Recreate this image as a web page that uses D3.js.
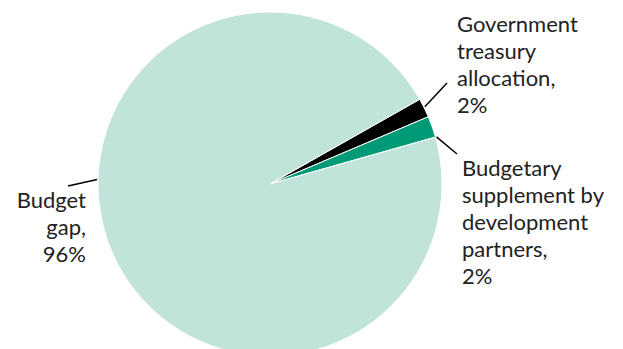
<!DOCTYPE html>
<html>
<head>
<meta charset="utf-8">
<script src="https://cdn.jsdelivr.net/npm/d3@7"></script>
<style>
  html, body { margin: 0; padding: 0; background: #fff; }
  text { font-family: "Lato", "Open Sans", sans-serif; fill: #222; }
</style>
</head>
<body>
<div id="chart"></div>
<script>
const width = 623;
const height = 349;

// slices, in drawing order (clockwise from the start angle)
const categories = ["Government treasury allocation", "Budgetary supplement by development partners", "Budget gap"];
const shares = [1.8, 2.0, 96.2];
const colors = ["#000000", "#009a77", "#c0e3da"];
// label lines as they are broken in the picture
const labelLines = [
  ["Government", "treasury", "allocation,"],
  ["Budgetary", "supplement by", "development", "partners,"],
  ["Budget", "gap,"]
];

const cx = 270, cy = 184, radius = 172;
const startDeg = 60.5;

const svg = d3.select("#chart")
  .append("svg")
  .attr("width", width)
  .attr("height", height);

const g = svg.append("g").attr("transform", `translate(${cx}, ${cy})`);

const pieGenerator = d3.pie()
  .sort(null)
  .value(d => d)
  .startAngle(startDeg * Math.PI / 180)
  .endAngle(startDeg * Math.PI / 180 + 2 * Math.PI);

const arcGenerator = d3.arc().innerRadius(0).outerRadius(radius);
const arcs = pieGenerator(shares);

g.selectAll("path.slice")
  .data(arcs)
  .enter()
  .append("path")
  .attr("class", "slice")
  .attr("d", arcGenerator)
  .style("fill", (d, i) => colors[i])
  .style("stroke", "#fff")
  .style("stroke-width", 1);

// leader lines: angle on the rim (deg), then end point relative to the centre
const leaders = [
  { a: 63.5, end: [177, -101] },
  { a: 74.2, end: [187, -30] },
  { a: 271.5, end: [-202, 2] }
];
// text anchors relative to the centre
const labelPos = [
  { x: 187, y: -152, anchor: "start" },
  { x: 192, y: -8, anchor: "start" },
  { x: -184, y: 24, anchor: "end" }
];
const lineHeight = 27;

leaders.forEach((l, i) => {
  const a = l.a * Math.PI / 180;
  g.append("line")
    .attr("x1", Math.sin(a) * (radius + 1))
    .attr("y1", -Math.cos(a) * (radius + 1))
    .attr("x2", l.end[0])
    .attr("y2", l.end[1])
    .style("stroke", "#000")
    .style("stroke-width", 1.5);
});

labelPos.forEach((p, i) => {
  const lines = labelLines[i].concat([Math.round(shares[i]) + "%"]);
  const t = g.append("text")
    .attr("text-anchor", p.anchor)
    .style("font-size", "22px");
  lines.forEach((s, j) => {
    t.append("tspan")
      .attr("x", p.x)
      .attr("y", p.y + j * lineHeight)
      .text(s);
  });
});
</script>
</body>
</html>
